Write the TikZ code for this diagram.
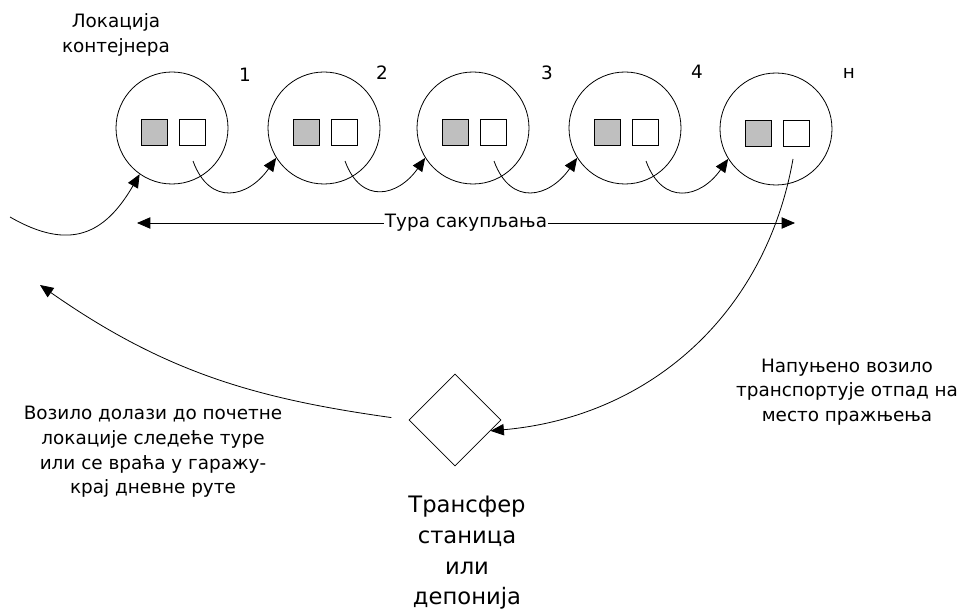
\documentclass[tikz,border=0pt]{standalone}
\usepackage{fontspec}
\setmainfont{DejaVu Sans}
\usetikzlibrary{shapes.geometric,arrows.meta}
\begin{document}
\begin{tikzpicture}[x=0.75pt,y=-0.75pt,
  loc/.style={circle, draw, line width=0.6pt, minimum size=84pt, inner sep=0pt},
  box/.style={rectangle, draw, line width=0.6pt, minimum size=19.5pt, inner sep=0pt},
  arr/.style={line width=0.6pt, -{Triangle[length=10pt,width=8.5pt]}},
  txt/.style={font=\fontsize{13.8}{18.5}\selectfont, align=center, inner sep=0pt}]
\useasboundingbox (0,0) rectangle (960,613);
\node[txt] (lid0) at (116,35){Локација\\контејнера};
\node[loc] (cid1) at (172,128){};
\node[box, fill=gray!50] (gid1) at (154,132){};
\node[box] (wid1) at (192,132){};
\coordinate (sid1) at (193,161);
\node[txt] (nid1) at (245,75){1};
\node[loc] (cid2) at (324,128){};
\node[box, fill=gray!50] (gid2) at (306,132){};
\node[box] (wid2) at (344,132){};
\coordinate (sid2) at (345,161);
\node[txt] (nid2) at (382,73){2};
\node[loc] (cid3) at (473,128){};
\node[box, fill=gray!50] (gid3) at (455,132){};
\node[box] (wid3) at (493,132){};
\coordinate (sid3) at (494,161);
\node[txt] (nid3) at (547,73){3};
\node[loc] (cid4) at (625,128){};
\node[box, fill=gray!50] (gid4) at (607,132){};
\node[box] (wid4) at (645,132){};
\coordinate (sid4) at (646,161);
\node[txt] (nid4) at (697,72){4};
\node[loc] (cid5) at (776,129){};
\node[box, fill=gray!50] (gid5) at (758,133){};
\node[box] (wid5) at (796,133){};
\coordinate (sid5) at (793,159);
\node[txt] (nid5) at (849,73){н};
\coordinate (in0) at (10,217);
\draw[arr] (in0) to[out=-30,in=-120,looseness=1.3] (cid1.235);
\draw[arr] (sid1) to[out=-70,in=-125,looseness=1.5] (cid2.212);
\draw[arr] (sid2) to[out=-70,in=-125,looseness=1.5] (cid3.212);
\draw[arr] (sid3) to[out=-70,in=-125,looseness=1.5] (cid4.212);
\draw[arr] (sid4) to[out=-70,in=-125,looseness=1.5] (cid5.212);
\coordinate (tl) at (137,223);
\coordinate (tr) at (795,223);
\draw[line width=0.6pt, {Triangle[length=10pt,width=8.5pt]}-{Triangle[length=10pt,width=8.5pt]}] (tl) -- node[txt, fill=white, inner sep=1pt]{Тура сакупљања} (tr);
\node[diamond, draw, line width=0.6pt, minimum width=69pt, minimum height=69pt, inner sep=0pt] (dia) at (455,420){};
\node[txt, font=\fontsize{17}{23}\selectfont] (tid) at (467,553){Трансфер\\станица\\или\\депонија};
\draw[arr] (sid5) to[out=-100,in=5] (dia.-17);
\coordinate (back) at (40,285);
\draw[arr, shorten <=13pt] (dia.west) to[out=172,in=-35] (back);
\node[txt] (rid) at (847,392){Напуњено возило\\транспортује отпад на\\место пражњења};
\node[txt] (bid) at (153,452){Возило долази до почетне\\локације следеће туре\\или се враћа у гаражу-\\крај дневне руте};
\end{tikzpicture}
\end{document}
